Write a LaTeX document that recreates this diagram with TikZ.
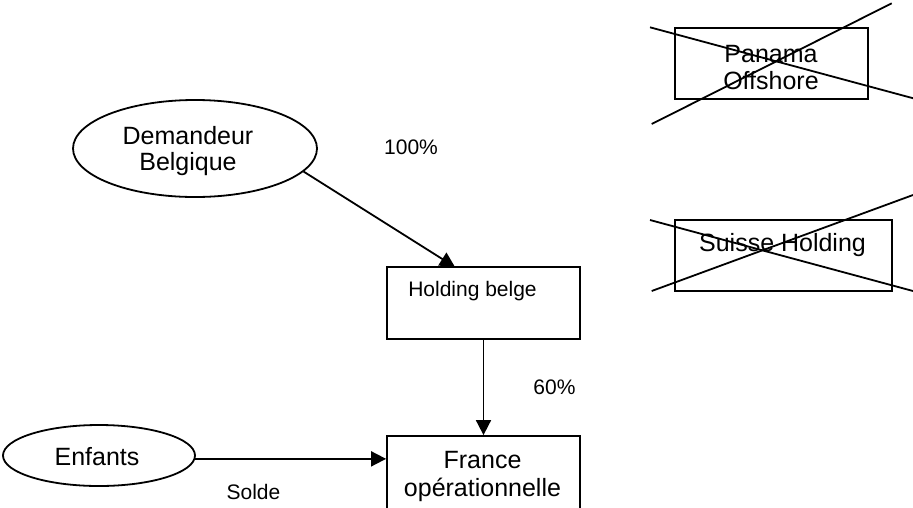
\documentclass[tikz,border=0pt]{standalone}
\usepackage{fontspec}
\setmainfont{Liberation Sans}
\usetikzlibrary{arrows.meta,shapes.geometric}

\tikzset{
  big/.style={font=\fontsize{25}{26.5}\selectfont, align=center, inner sep=0pt},
  small/.style={font=\fontsize{21}{24}\selectfont, inner sep=0pt},
  oval/.style={draw, ellipse, line width=1.8pt, inner sep=0pt},
  box/.style={draw, rectangle, line width=1.8pt, inner sep=0pt},
  strike/.style={line width=1.8pt},
  arr/.style={line width=1.8pt, -{Triangle[length=15pt,width=15pt]}}
}

\begin{document}
\begin{tikzpicture}[x=1pt, y=-1pt]
  \useasboundingbox (0,0) rectangle (913,507);
  \clip (0,0) rectangle (913,507);

  % owners
  \node[oval, minimum width=244pt, minimum height=97pt] (dem) at (195,148.5) {};
  \node[big] (demtext) at (188,151) {Demandeur\\Belgique};
  \node[oval, minimum width=192pt, minimum height=61pt] (enf) at (99,455.5) {};
  \node[big] (enftext) at (97,457) {Enfants};

  % companies
  \node[box, minimum width=193pt, minimum height=72pt] (hb) at (483.5,303) {};
  \node[small] (hbtext) at (472.5,291) {Holding belge};
  \node[box, minimum width=193pt, minimum height=100pt] (fr) at (483.5,486) {};
  \node[big, font=\fontsize{25}{28}\selectfont] (frtext) at (482.5,476) {France\\opérationnelle};

  % struck-out entities
  \node[box, minimum width=193pt, minimum height=71pt] (pan) at (771.5,63.5) {};
  \node[big] (pantext) at (771,67.5) {Panama\\Offshore};
  \node[box, minimum width=217pt, minimum height=71pt] (sui) at (783.5,255.5) {};
  \node[big] (suitext) at (782.5,245) {Suisse Holding};

  \coordinate (p1) at (650,27.3);
  \coordinate (p2) at (913.3,98.3);
  \coordinate (p3) at (651.7,124);
  \coordinate (p4) at (891.7,3.3);
  \draw[strike] (p1) -- (p2);
  \draw[strike] (p3) -- (p4);

  \coordinate (s1) at (650,220);
  \coordinate (s2) at (913,291);
  \coordinate (s3) at (651.7,291);
  \coordinate (s4) at (913,195);
  \draw[strike] (s1) -- (s2);
  \draw[strike] (s3) -- (s4);

  % shareholdings
  \coordinate (hbin) at (455,267);
  \draw[arr] (dem.-12) -- (hbin);
  \draw[arr] (hb.south) -- (fr.north);
  \draw[arr] (enf.-2) -- (enf.-2 -| fr.west);

  \node[small] (l100) at (411,147) {100\%};
  \node[small] (l60) at (554.5,387) {60\%};
  \node[small] (lsolde) at (253.5,492) {Solde};
\end{tikzpicture}
\end{document}
